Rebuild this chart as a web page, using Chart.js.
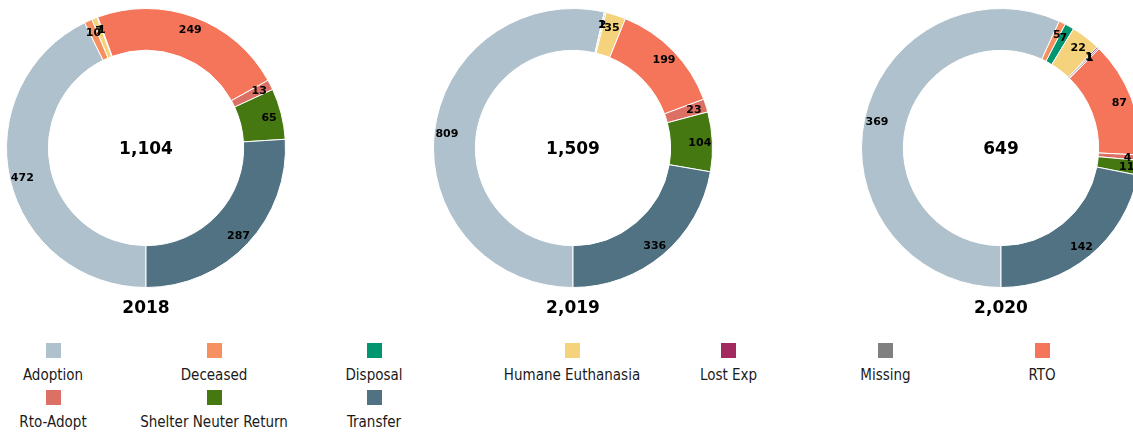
<!DOCTYPE html>
<html>
<head>
<meta charset="utf-8">
<script src="https://cdn.jsdelivr.net/npm/chart.js@4"></script>
<style>
  html, body { margin: 0; padding: 0; background: #fff; }
  body { width: 1133px; height: 433px; overflow: hidden; position: relative; }
  canvas { position: absolute; top: 0; }
  .item { position: absolute; width: 240px; text-align: center;
          font-family: "DejaVu Sans Condensed", "DejaVu Sans", sans-serif; font-stretch: condensed;
          font-size: 15px; color: #1a1a1a; }
  .item span.box { display: block; width: 15px; height: 15px; margin: 0 auto 8px auto; }
</style>
</head>
<body>
<canvas id="c0" width="300" height="330"></canvas>
<canvas id="c1" width="300" height="330"></canvas>
<canvas id="c2" width="300" height="330"></canvas>
<div id="legend"></div>
<script>
// outcome categories and their colours
const categories = ['Adoption', 'Deceased', 'Disposal', 'Humane Euthanasia', 'Lost Exp',
    'Missing', 'RTO', 'Rto-Adopt', 'Shelter Neuter Return', 'Transfer'];
const colors = ['#afc1cc', '#f79060', '#009670', '#f5d37c', '#a22a5e',
    '#808080', '#f47559', '#dc7064', '#457811', '#517282'];

// one donut per year
const years = ['2018', '2,019', '2,020'];
const values2018 = [472, 10, 0, 7, 0, 1, 249, 13, 65, 287];
const values2019 = [809, 1, 2, 35, 0, 0, 199, 23, 104, 336];
const values2020 = [369, 5, 7, 22, 1, 1, 87, 4, 11, 142];
const yearValues = [values2018, values2019, values2020];

const centersX = [146, 573, 1001];
const FONT = '"DejaVu Sans", sans-serif';

// slice numbers (pushed toward outer edge) + total in the hole
const sliceLabels = {
    id: 'sliceLabels',
    afterDatasetsDraw(chart) {
        const ctx = chart.ctx;
        const data = chart.data.datasets[0].data;
        const meta = chart.getDatasetMeta(0);
        ctx.save();
        ctx.fillStyle = '#000';
        ctx.textAlign = 'center';
        ctx.textBaseline = 'middle';
        ctx.font = 'bold 11px ' + FONT;
        meta.data.forEach((arc, i) => {
            if (!data[i]) return;
            const a = arc.getProps(['x', 'y', 'startAngle', 'endAngle', 'innerRadius', 'outerRadius']);
            const mid = (a.startAngle + a.endAngle) / 2;
            const r = a.innerRadius + 0.7 * (a.outerRadius - a.innerRadius);
            ctx.fillText(data[i].toLocaleString('en-US'), a.x + Math.cos(mid) * r, a.y + Math.sin(mid) * r + 1);
        });
        const total = data.reduce((a, b) => a + b, 0);
        const first = meta.data[0];
        ctx.font = 'bold 17px ' + FONT;
        ctx.fillText(total.toLocaleString('en-US'), first.x, first.y + 2);
        ctx.restore();
    }
};

years.forEach((year, k) => {
    const el = document.getElementById('c' + k);
    el.style.left = (centersX[k] - 150) + 'px';
    new Chart(el.getContext('2d'), {
        type: 'doughnut',
        data: {
            labels: categories,
            datasets: [{
                data: yearValues[k],
                backgroundColor: colors,
                borderColor: '#fff',
                borderWidth: 1
            }]
        },
        options: {
            responsive: false,
            animation: false,
            rotation: 180,
            cutout: '70%',
            layout: { padding: { top: 8 } },
            plugins: {
                legend: { display: false },
                tooltip: { enabled: false },
                title: {
                    display: true,
                    position: 'bottom',
                    text: year,
                    color: '#000',
                    font: { family: FONT, size: 17, weight: 'bold', lineHeight: 1.2 },
                    padding: { top: 10, bottom: 11.6 }
                }
            }
        },
        plugins: [sliceLabels]
    });
});

// legend below the donuts, 7 columns
const legendCols = [53, 214, 374, 572, 728.5, 885.5, 1042];
const legend = document.getElementById('legend');
categories.forEach((name, i) => {
    const row = Math.floor(i / 7), col = i % 7;
    const d = document.createElement('div');
    d.className = 'item';
    d.style.left = (legendCols[col] - 120) + 'px';
    d.style.top = (343 + row * 47) + 'px';
    d.innerHTML = '<span class="box" style="background:' + colors[i] + '"></span>' + name;
    legend.appendChild(d);
});
</script>
</body>
</html>
